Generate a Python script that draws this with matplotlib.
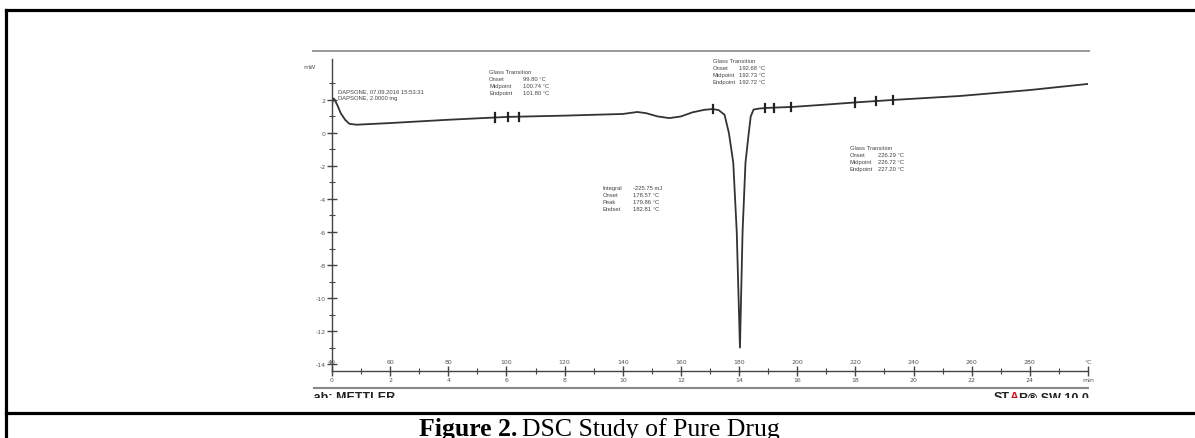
import numpy as np
import matplotlib
matplotlib.use("Agg")
import matplotlib.pyplot as plt
from matplotlib.lines import Line2D

# DSC curve of pure drug (heat flow in mW against time in min, 10 K/min from 40 °C)
time_min = [0.0, 0.03, 0.08, 0.18, 0.3, 0.45, 0.6, 0.85, 2, 4, 6, 8, 10, 10.5, 10.8,
            11.2, 11.6, 12.0, 12.4, 12.8, 13.1, 13.3, 13.5, 13.65, 13.8, 13.92, 14.03,
            14.12, 14.22, 14.32, 14.4, 14.5, 14.7, 15.0, 15.86, 17.0, 18.0, 19.3, 21.6,
            24.0, 26.0]
heat_flow = [1.6, 2.1, 2.05, 1.7, 1.2, 0.8, 0.55, 0.5, 0.6, 0.8, 0.97, 1.05, 1.15, 1.27, 1.2,
             1.0, 0.9, 1.0, 1.25, 1.4, 1.45, 1.38, 1.1, 0.0, -1.8, -6.0, -13.0,
             -6.0, -1.8, -0.2, 1.0, 1.42, 1.48, 1.52, 1.58, 1.72, 1.85, 2.0, 2.24,
             2.6, 2.97]
# evaluation marks on the curve
mark_times = [5.6, 6.05, 6.43, 13.1, 14.9, 15.2, 15.8, 18.0, 18.7, 19.3]

min_ticks = list(range(0, 25, 2))
temp_ticks = [40 + 10 * t for t in min_ticks]
mw_ticks = list(range(2, -15, -2))

W, H = 1195, 439
fig = plt.figure(figsize=(W / 100, H / 100), dpi=100)

def fx(px):
    return px / W

def fy(py):
    return 1 - py / H

# outer table frame
lk = dict(color="black", lw=2.3, solid_capstyle="projecting")
fig.add_artist(Line2D([fx(6.5), 1.0], [fy(10.5), fy(10.5)], **lk))
fig.add_artist(Line2D([fx(6.5), fx(6.5)], [fy(10.5), 0.0], **lk))
fig.add_artist(Line2D([fx(6.5), 1.0], [fy(413.5), fy(413.5)], **lk))

fig.text(fx(517), fy(436), "Figure 2.", family="Liberation Serif", weight="bold",
         fontsize=18.5, ha="right", va="baseline")
fig.text(fx(522), fy(436), "DSC Study of Pure Drug", family="Liberation Serif",
         fontsize=18.5, ha="left", va="baseline")

# embedded instrument image area
img = fig.add_axes([fx(313), fy(399), fx(1089) - fx(313), fy(51) - fy(399)])
img.set_xlim(313, 1089)
img.set_ylim(399, 51)
img.axis("off")
img.plot([313, 1089], [52, 52], color="#999999", lw=1.4, clip_on=False)
img.plot([313, 1089], [389, 389], color="#888888", lw=1.5)
foot = dict(fontsize=9, weight="bold", color="#222222", va="top", family="Liberation Sans")
t1 = img.text(306, 392.5, "Lab: METTLER", ha="left", **foot)
t2 = img.text(1089, 392.5, "R\u00ae SW 10.0", ha="right", **foot)
fig.canvas.draw()
inv = img.transData.inverted()
x_r = inv.transform(t2.get_window_extent().p0)[0]
t3 = img.text(x_r, 392.5, "A", ha="right", **dict(foot, color="#d01020"))
fig.canvas.draw()
x_a = inv.transform(t3.get_window_extent().p0)[0]
t4 = img.text(x_a, 392.5, "ST", ha="right", **foot)
for t in (t1, t2, t3, t4):
    t.set_clip_on(True)
    t.set_clip_box(img.bbox)

# DSC plot
ax = fig.add_axes([fx(332), fy(372), fx(1088) - fx(332), fy(60) - fy(372)])
ax.set_xlim(0, 26)
ax.set_ylim(-14.42, 4.48)
for s in ("top", "right"):
    ax.spines[s].set_visible(False)
for s in ("left", "bottom"):
    ax.spines[s].set_color("#444444")
    ax.spines[s].set_linewidth(1.0)
ax.patch.set_alpha(0)

ax.plot(time_min, heat_flow, color="#333333", lw=1.3)
mark_y = np.interp(mark_times, time_min, heat_flow)
for t, y in zip(mark_times, mark_y):
    ax.plot([t, t], [y - 0.25, y + 0.25], color="#222222", lw=1.6)

ax.set_yticks(mw_ticks)
ax.set_yticklabels([str(v) for v in mw_ticks])
ax.set_yticks(range(-13, 4, 2), minor=True)
ax.set_xticks(min_ticks + [26])
ax.set_xticklabels([str(v) for v in min_ticks] + ["min"])
ax.set_xticks(range(1, 26, 2), minor=True)
ax.tick_params(which="major", direction="inout", length=7, width=1.0, color="#444444",
               labelsize=4.5, labelcolor="#555555", pad=1)
ax.tick_params(which="minor", direction="inout", length=4, width=0.8, color="#444444")
for v, lab in zip(min_ticks + [26], [str(v) for v in temp_ticks] + ["\u00b0C"]):
    ax.text(v, -14.42 + 0.45, lab, fontsize=4.5, color="#555555", ha="center", va="bottom")
ax.text(-0.55, 4.0, "mW", fontsize=4.5, color="#555555", ha="right", va="center")

fs = 4.2
col = "#444444"
row = 0.43  # line step in mW units (about 7 px)
tk = dict(fontsize=fs, color=col, ha="left", va="top", family="Liberation Sans",
          clip_on=False)
ax.text(0.2, 2.7, "DAPSONE, 07.09.2016 15:53:31", **tk)
ax.text(0.2, 2.7 - row, "DAPSONE, 2.0000 mg", **tk)
blocks = [
    (5.4, 3.9, 1.17, "Glass Transition", ["Onset", "Midpoint", "Endpoint"],
     ["99.80 \u00b0C", "100.74 \u00b0C", "101.80 \u00b0C"]),
    (13.1, 4.55, 0.9, "Glass Transition", ["Onset", "Midpoint", "Endpoint"],
     ["192.68 \u00b0C", "192.73 \u00b0C", "192.72 \u00b0C"]),
    (17.8, -0.73, 0.97, "Glass Transition", ["Onset", "Midpoint", "Endpoint"],
     ["226.29 \u00b0C", "226.72 \u00b0C", "227.20 \u00b0C"]),
    (9.32, -3.15, 1.03, None, ["Integral", "Onset", "Peak", "Endset"],
     ["-225.75 mJ", "178.57 \u00b0C", "179.86 \u00b0C", "182.81 \u00b0C"]),
]
for x0, y0, dx, head, labels, values in blocks:
    y = y0
    if head:
        ax.text(x0, y, head, **tk)
        y -= row
    for lab, val in zip(labels, values):
        ax.text(x0, y, lab, **tk)
        ax.text(x0 + dx, y, val, **tk)
        y -= row

fig.savefig("out.png", dpi=100)
